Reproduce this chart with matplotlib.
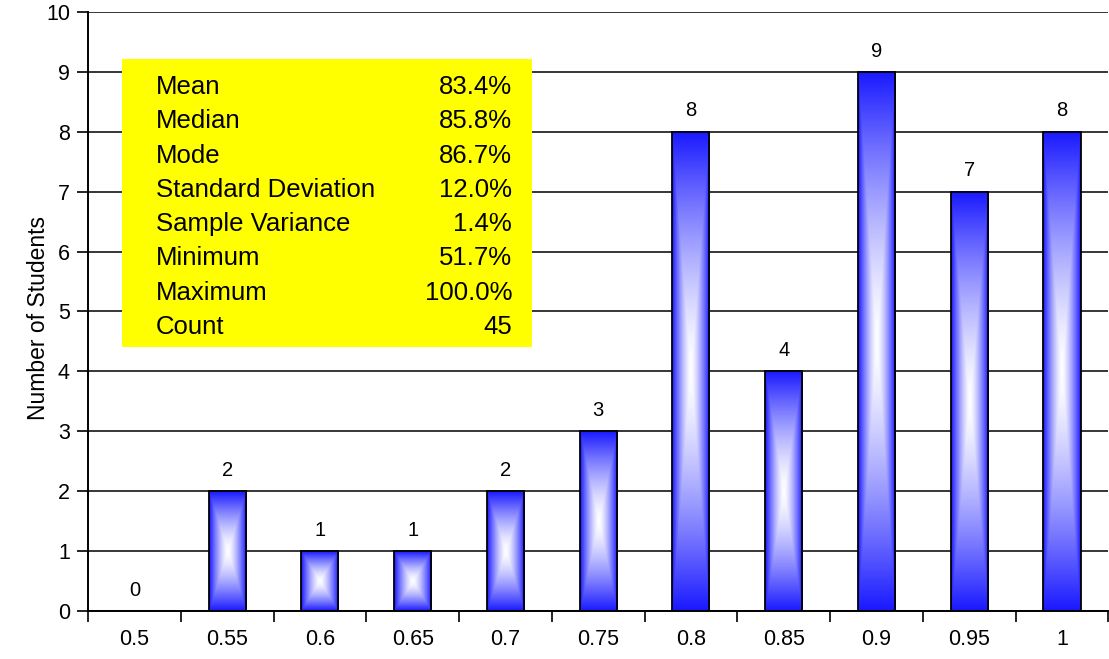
import numpy as np
import matplotlib.pyplot as plt
from matplotlib.patches import Rectangle

plt.rcParams['font.family'] = ['Liberation Sans', 'DejaVu Sans']

# =========================================================
# DATA
# =========================================================

bins = ["0.5", "0.55", "0.6", "0.65", "0.7", "0.75", "0.8", "0.85", "0.9", "0.95", "1"]
counts = [0, 2, 1, 1, 2, 3, 8, 4, 9, 7, 8]

stat_names = ["Mean", "Median", "Mode", "Standard Deviation",
              "Sample Variance", "Minimum", "Maximum", "Count"]
stat_values = ["83.4%", "85.8%", "86.7%", "12.0%", "1.4%", "51.7%", "100.0%", "45"]


# =========================================================
# GRADIENT FILL (rectangular, from center)
# =========================================================

def gradient_image(nx=60, ny=300):
    u = np.linspace(-1, 1, nx)
    v = np.linspace(-1, 1, ny)
    uu, vv = np.meshgrid(u, v)
    t = np.maximum(np.abs(uu), np.abs(vv)) ** 1.4
    blue = np.array([25, 25, 255]) / 255.0
    white = np.array([1.0, 1.0, 1.0])
    img = white[None, None, :] * (1 - t[..., None]) + blue[None, None, :] * t[..., None]
    return img


# =========================================================
# FIGURE
# =========================================================

fig = plt.figure(figsize=(11.09, 6.59), dpi=100)
ax = fig.add_axes([0.0794, 0.0729, 0.9200, 0.9089])

x = np.arange(len(bins))
bars = ax.bar(x, counts, width=0.4, facecolor="none", edgecolor="black",
              linewidth=1.3, zorder=3)

for b in bars:
    h = b.get_height()
    if h <= 0:
        continue
    x0 = b.get_x()
    w = b.get_width()
    ax.imshow(gradient_image(), extent=(x0, x0 + w, 0, h), aspect="auto",
              interpolation="bilinear", zorder=2)

# value labels
for xi, c in zip(x, counts):
    ax.annotate(str(c), (xi, c), xytext=(0, 15), textcoords="offset points",
                ha="center", va="center", fontsize=14.5)

ax.set_xlim(-0.5, len(bins) - 0.5)
ax.set_ylim(0, 10)

# y axis
ax.set_yticks(np.arange(0, 11, 1))
ax.tick_params(axis="y", direction="out", length=8, width=1.2, labelsize=15.5, pad=5)
ax.yaxis.grid(True, color="black", linewidth=1.1, zorder=1)
ax.set_axisbelow(True)
ax.set_ylabel("Number of Students", fontsize=16.5)
ax.yaxis.set_label_coords(-0.037, 0.489)

# x axis: ticks between categories, labels under centers
ax.set_xticks(np.arange(-0.5, len(bins), 1))
ax.set_xticklabels([])
ax.set_xticks(x, minor=True)
ax.set_xticklabels(bins, minor=True)
ax.tick_params(axis="x", which="major", direction="out", length=8, width=1.2)
ax.tick_params(axis="x", which="minor", length=0, labelsize=15.5, pad=13)

for side in ["top", "right"]:
    ax.spines[side].set_visible(False)
for side in ["left", "bottom"]:
    ax.spines[side].set_linewidth(1.4)

# =========================================================
# STATS BOX
# =========================================================

box_left, box_right = 0.0332, 0.4355
box_bottom, box_top = 0.441, 0.921
ax.add_patch(Rectangle((box_left, box_bottom), box_right - box_left,
                       box_top - box_bottom, transform=ax.transAxes,
                       facecolor="#FFFF00", edgecolor="none", zorder=4))

row_top = 0.875
row_step = 0.0573
for i, (name, val) in enumerate(zip(stat_names, stat_values)):
    yy = row_top - i * row_step
    ax.text(0.0666, yy, name, transform=ax.transAxes, ha="left", va="center",
            fontsize=18.5, zorder=5)
    ax.text(0.4156, yy, val, transform=ax.transAxes, ha="right", va="center",
            fontsize=18.5, zorder=5)

fig.savefig("out.png", dpi=100)
